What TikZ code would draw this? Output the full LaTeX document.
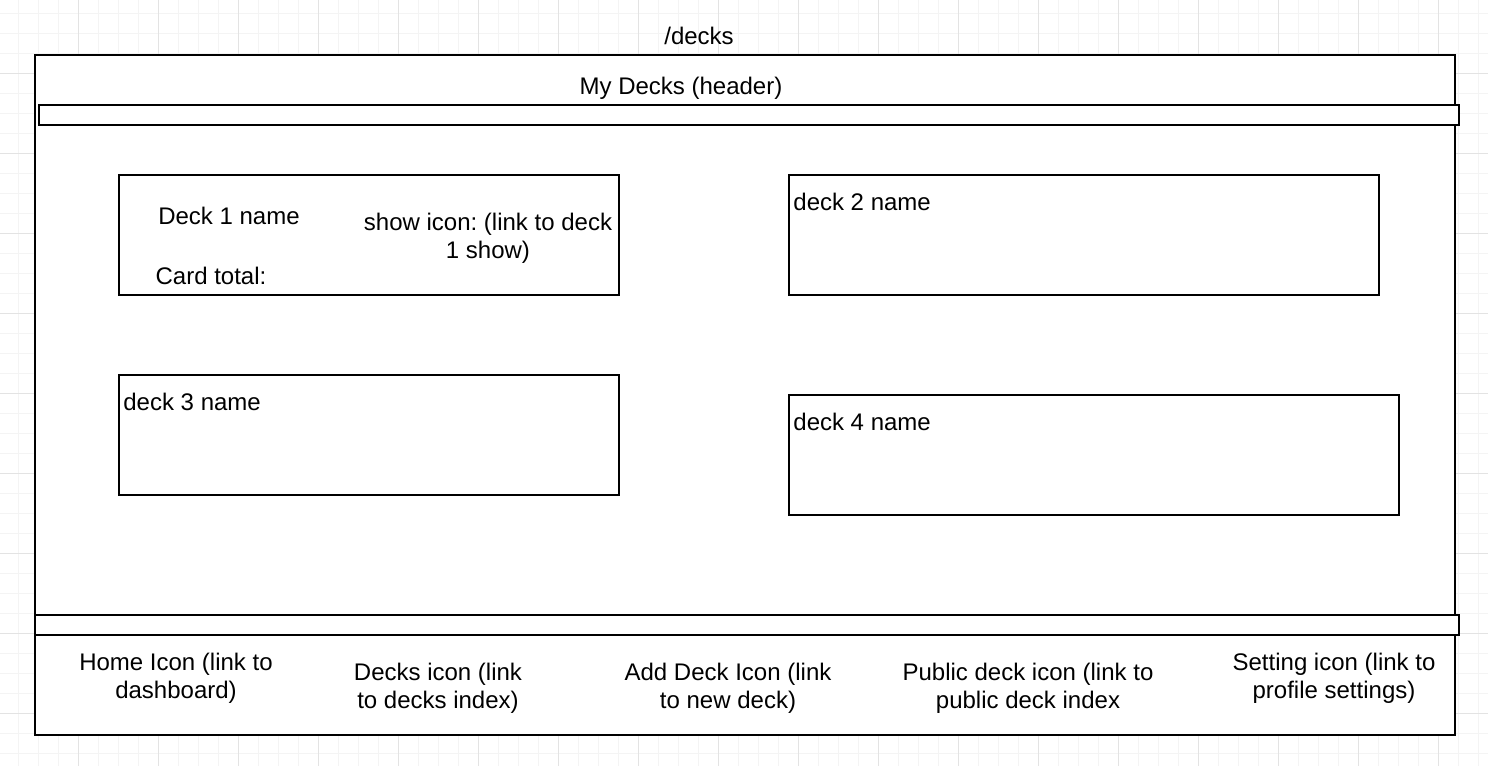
\documentclass[tikz,border=0pt]{standalone}
\usepackage{fontspec}
\setmainfont{Liberation Sans}
\usepackage{tikz}
\usetikzlibrary{positioning}
\definecolor{gradefina}{HTML}{F4F4F4}
\definecolor{gradegrossa}{HTML}{E3E3E3}
\definecolor{traco}{HTML}{000000}
\frenchspacing

\begin{document}
\begin{tikzpicture}[x=0.5pt,y=-0.5pt, font=\fontsize{12pt}{14pt}\selectfont,
    gfina/.style={draw=gradefina, line width=0.5pt},
    ggrossa/.style={draw=gradegrossa, line width=0.5pt},
    caixa/.style={draw=traco, line width=1pt, fill=white, inner sep=0pt, outer sep=0pt},
    txt/.style={text=traco, align=center, inner sep=0pt}]
  \useasboundingbox (0,0) rectangle (1488,766);
  % grade de fundo
  \foreach \x in {18,38,...,1478}{\draw[gfina] (\x,0) -- (\x,766);}
  \foreach \y in {13,33,...,753}{\draw[gfina] (0,\y) -- (1488,\y);}
  \foreach \x in {78,158,...,1438}{\draw[ggrossa] (\x,0) -- (\x,766);}
  \foreach \y in {73,153,...,713}{\draw[ggrossa] (0,\y) -- (1488,\y);}
  % moldura e barras
  \node[caixa, minimum width=710pt, minimum height=340pt] (tela) at (745,395) {};
  \node[caixa, minimum width=710pt, minimum height=10pt] (topo) at (749,115) {};
  \node[caixa, minimum width=712pt, minimum height=10pt] (rodape) at (747,625) {};
  % baralhos
  \node[caixa, minimum width=250pt, minimum height=60pt] (deck1) at (369,235) {};
  \node[caixa, minimum width=295pt, minimum height=60pt] (deck2) at (1084,235) {};
  \node[caixa, minimum width=250pt, minimum height=60pt] (deck3) at (369,435) {};
  \node[caixa, minimum width=305pt, minimum height=60pt] (deck4) at (1094,455) {};
  % textos
  \node[txt] (rota) at (699,36) {/decks};
  \node[txt] (cabec) at (681,88) {My Decks (header)};
  \node[txt] (nome1) at (229,216) {Deck 1 name};
  \node[txt] (total1) at (211,276) {Card total:};
  \node[txt] (show1) at (488,238) {show icon: (link to deck\\1 show)};
  \node[txt, anchor=west] (nome2) at (793,202) {deck 2 name};
  \node[txt, anchor=west] (nome3) at (123,402) {deck 3 name};
  \node[txt, anchor=west] (nome4) at (793,422) {deck 4 name};
  \node[txt] (home) at (176,678) {Home Icon (link to\\dashboard)};
  \node[txt] (decks) at (438,688) {Decks icon (link\\to decks index)};
  \node[txt] (novo) at (728,688) {Add Deck Icon (link\\to new deck)};
  \node[txt] (publico) at (1028,688) {Public deck icon (link to\\public deck index};
  \node[txt] (config) at (1334,678) {Setting icon (link to\\profile settings)};
\end{tikzpicture}
\end{document}
